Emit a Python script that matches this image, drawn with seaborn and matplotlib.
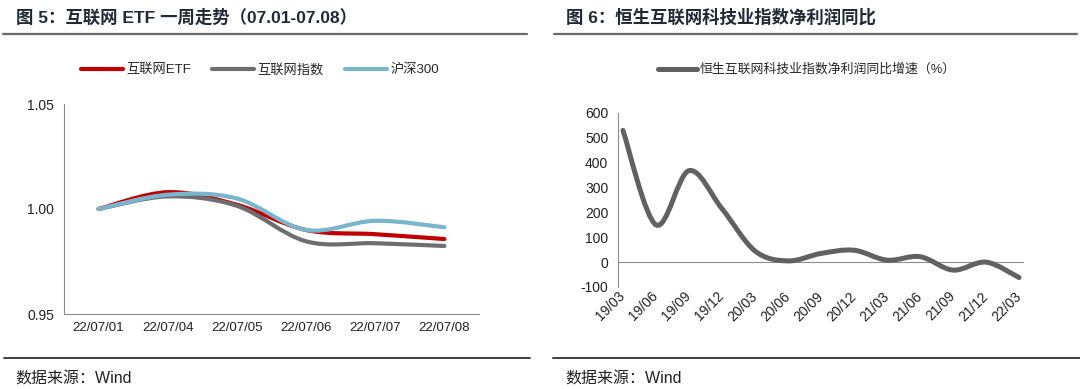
import numpy as np
import pandas as pd
import seaborn as sns
import matplotlib.pyplot as plt
from matplotlib.path import Path
from matplotlib.patches import PathPatch
from matplotlib.lines import Line2D

# left chart: one week of the internet ETF vs index vs CSI 300
days = ['22/07/01', '22/07/04', '22/07/05', '22/07/06', '22/07/07', '22/07/08']
etf = [1.000, 1.008, 1.002, 0.990, 0.988, 0.9857]
net_index = [1.000, 1.006, 1.0015, 0.9846, 0.9837, 0.9824]
hs300 = [1.000, 1.0068, 1.005, 0.990, 0.9944, 0.9913]
left_names = ['互联网ETF', '互联网指数', '沪深300']

# right chart: net profit yoy growth of the HS internet tech index
quarters = ['19/03', '19/06', '19/09', '19/12', '20/03', '20/06', '20/09',
            '20/12', '21/03', '21/06', '21/09', '21/12', '22/03']
profit_yoy = [530, 150, 368, 215, 45, 5, 35, 48, 8, 22, -32, 0, -62]
right_name = '恒生互联网科技业指数净利润同比增速（%）'

RED = '#C00000'
GREY = '#6E6E6E'
BLUE = '#79B6CE'
AXIS = '#8C8C8C'
TITLE = '#1F2A36'

sns.set_theme(style='white')
plt.rcParams['font.family'] = ['Liberation Sans', 'Noto Sans CJK SC']
plt.rcParams['axes.unicode_minus'] = False


def smooth(line):
    # excel style smoothed line: catmull-rom turned into bezier segments
    xy = line.get_xydata()
    pts = np.vstack([xy[0], xy, xy[-1]])
    verts = [xy[0]]
    codes = [Path.MOVETO]
    for i in range(1, len(pts) - 2):
        p0, p1, p2, p3 = pts[i - 1], pts[i], pts[i + 1], pts[i + 2]
        verts += [p1 + (p2 - p0) / 6, p2 - (p3 - p1) / 6, p2]
        codes += [Path.CURVE4] * 3
    return Path(verts, codes)


def make_smooth(ax):
    for ln in list(ax.lines):
        patch = PathPatch(smooth(ln), fill=False, edgecolor=ln.get_color(),
                          lw=ln.get_linewidth(), capstyle='round',
                          joinstyle='round', zorder=3)
        ax.add_patch(patch)
        ln.set_visible(False)


fig = plt.figure(figsize=(10.8, 3.89), dpi=100)

# ---------------- left ----------------
ax1 = fig.add_axes([64 / 1080, 1 - 314 / 389, 415 / 1080, 210 / 389])
df1 = pd.DataFrame({'x': np.arange(len(days)), left_names[0]: etf,
                    left_names[1]: net_index, left_names[2]: hs300})
long1 = df1.melt(id_vars='x', var_name='series', value_name='v')
sns.lineplot(data=long1, x='x', y='v', hue='series',
             palette=[RED, GREY, BLUE], linewidth=3.0, legend=False, ax=ax1)
make_smooth(ax1)
ax1.set_xlim(-0.5, len(days) - 0.5)
ax1.set_ylim(0.95, 1.05)
ax1.set_yticks([0.95, 1.00, 1.05])
ax1.set_yticklabels(['%.2f' % v for v in [0.95, 1.00, 1.05]])
ax1.set_xticks(np.arange(len(days)))
ax1.set_xticklabels(days)
ax1.set_xticks(np.arange(len(days) + 1) - 0.5, minor=True)
ax1.tick_params(axis='x', which='major', length=0, pad=6, labelsize=9.5, colors='#222222')
ax1.tick_params(axis='x', which='minor', length=4, width=0.8, color=AXIS, direction='out')
ax1.tick_params(axis='y', length=4, width=0.8, color=AXIS, direction='out',
                labelsize=10, colors='#222222', pad=3)
for s in ['top', 'right']:
    ax1.spines[s].set_visible(False)
for s in ['left', 'bottom']:
    ax1.spines[s].set_color(AXIS)
    ax1.spines[s].set_linewidth(0.8)
ax1.set_xlabel('')
ax1.set_ylabel('')

h1 = [Line2D([], [], color=c, lw=3.0) for c in [RED, GREY, BLUE]]
fig.legend(h1, left_names, loc='center', bbox_to_anchor=(260 / 1080, 1 - 70 / 389),
           ncol=3, frameon=False, fontsize=9.5, handlelength=3.2,
           handletextpad=0.25, columnspacing=1.6)

# ---------------- right ----------------
ax2 = fig.add_axes([618 / 1080, 1 - 287 / 389, 405 / 1080, 174 / 389])
df2 = pd.DataFrame({'x': np.arange(len(quarters)), 'v': profit_yoy})
sns.lineplot(data=df2, x='x', y='v', color='#616161', linewidth=3.6, ax=ax2)
make_smooth(ax2)
ax2.set_xlim(-0.15, len(quarters) - 1 + 0.12)
ax2.set_ylim(-100, 600)
ax2.set_yticks(np.arange(-100, 601, 100))
ax2.set_xticks(np.arange(len(quarters)))
ax2.set_xticklabels(quarters)
ax2.spines['bottom'].set_position(('data', 0))
ax2.tick_params(axis='x', length=4, width=0.8, color=AXIS, direction='out',
                pad=19, labelsize=10, colors='#222222')
ax2.tick_params(axis='y', length=4, width=0.8, color=AXIS, direction='out',
                labelsize=10, colors='#222222', pad=3)
plt.setp(ax2.get_xticklabels(), rotation=45, ha='right', va='center',
         rotation_mode='anchor')
for s in ['top', 'right']:
    ax2.spines[s].set_visible(False)
for s in ['left', 'bottom']:
    ax2.spines[s].set_color(AXIS)
    ax2.spines[s].set_linewidth(0.8)
ax2.set_xlabel('')
ax2.set_ylabel('')

h2 = [Line2D([], [], color='#616161', lw=3.6)]
fig.legend(h2, [right_name], loc='center', bbox_to_anchor=(807 / 1080, 1 - 70 / 389),
           frameon=False, fontsize=9.3, handlelength=3.0, handletextpad=0.25)

# ---------------- titles, rules, source ----------------
fig.text(16 / 1080, 1 - 17 / 389, '图 5：互联网 ETF 一周走势（07.01-07.08）',
         fontsize=12.5, fontweight='bold', color=TITLE, va='center', ha='left')
fig.text(566 / 1080, 1 - 17 / 389, '图 6：恒生互联网科技业指数净利润同比',
         fontsize=12.5, fontweight='bold', color=TITLE, va='center', ha='left')
for x0, x1 in [(3, 527), (554, 1077)]:
    fig.add_artist(Line2D([x0 / 1080, x1 / 1080], [1 - 34 / 389] * 2,
                          transform=fig.transFigure, color='#6A6A6A', lw=1.6))
for x0, x1 in [(4, 530), (553, 1080)]:
    fig.add_artist(Line2D([x0 / 1080, x1 / 1080], [1 - 358 / 389] * 2,
                          transform=fig.transFigure, color='#404040', lw=1.4))
for x0 in [15, 565]:
    fig.text(x0 / 1080, 1 - 379 / 389, '数据来源：Wind', fontsize=11.5,
             color='#222222', va='center', ha='left')

fig.savefig('out.png', dpi=100)
